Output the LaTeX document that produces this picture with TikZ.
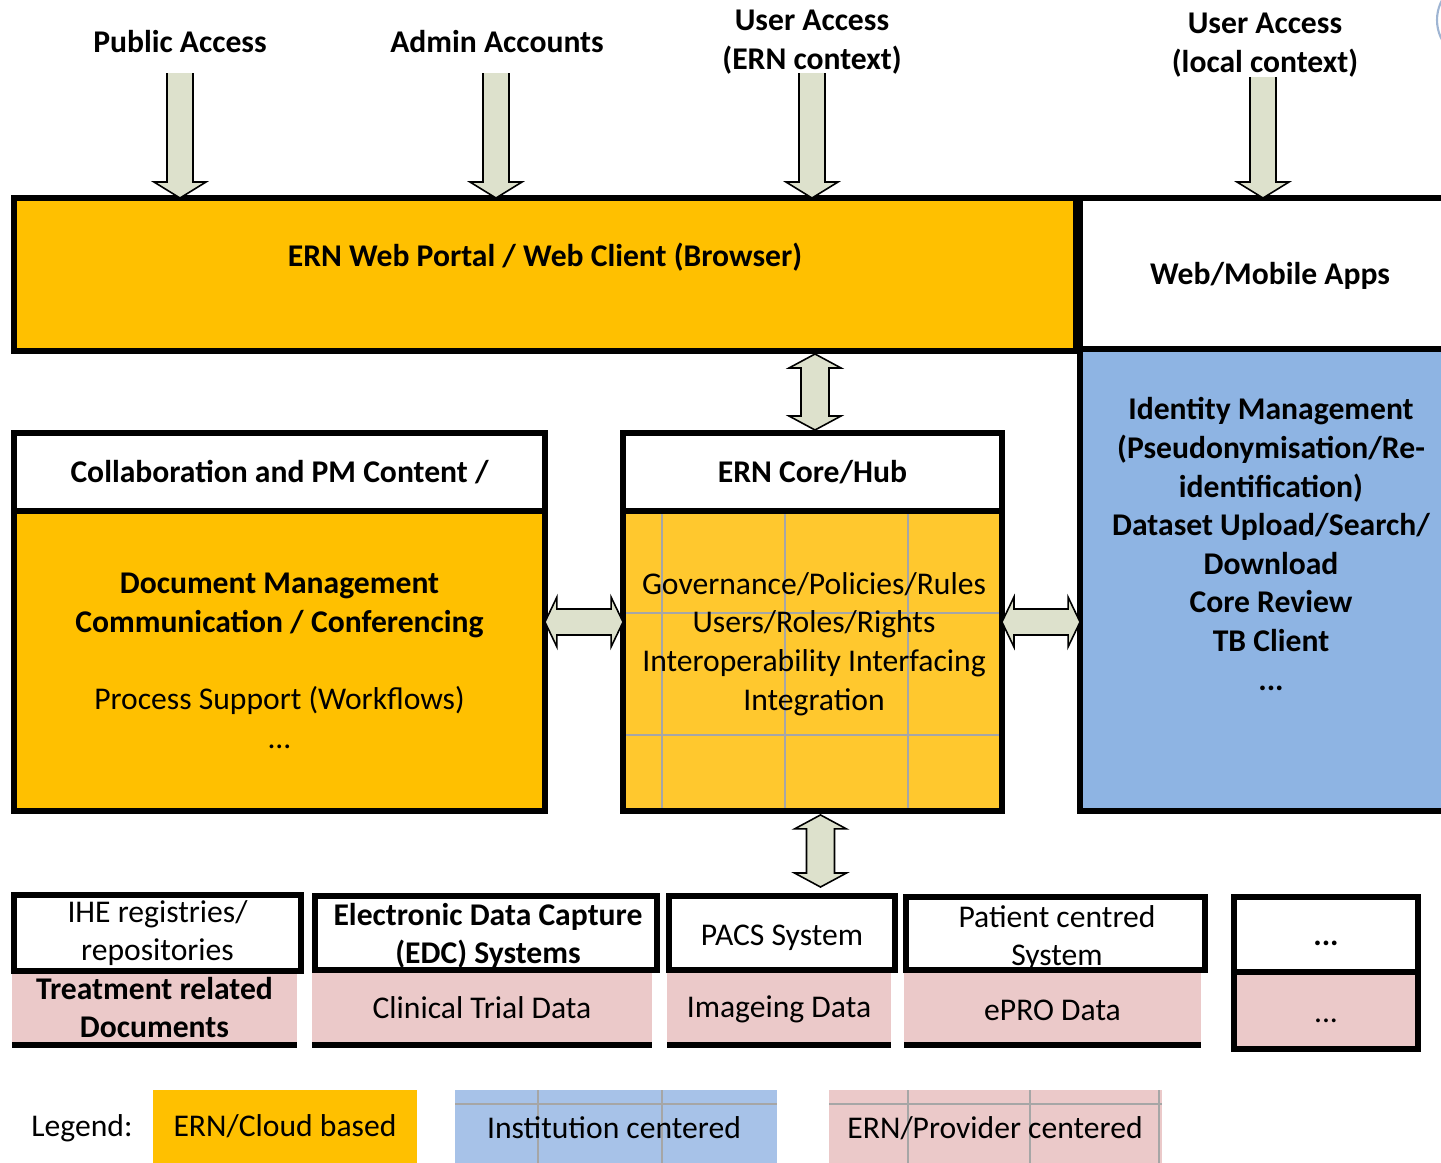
\documentclass[tikz,border=0pt]{standalone}
\usepackage{fontspec}
\setmainfont{Carlito}
\usetikzlibrary{calc, positioning}

\definecolor{ernorange}{HTML}{FFC000}
\definecolor{hubyellow}{HTML}{FFC82E}
\definecolor{instblue}{HTML}{8EB4E3}
\definecolor{legblue}{HTML}{A7C2E8}
\definecolor{provpink}{HTML}{EBC9C9}
\definecolor{arrowfill}{HTML}{DDE1CC}
\definecolor{gridgrey}{HTML}{A6A6A6}

% block arrow pointing down, open at the top
\newcommand{\blockdown}[2]{%
  \draw[barrow] let \p1=(#1), \p2=(#2) in
    (\x1-0.26cm,\y1) -- (\x1-0.26cm,\y2+0.32cm) -- (\x1-0.52cm,\y2+0.32cm) -- (\x1,\y2)
    -- (\x1+0.52cm,\y2+0.32cm) -- (\x1+0.26cm,\y2+0.32cm) -- (\x1+0.26cm,\y1);}
% vertical double block arrow
\newcommand{\blockvv}[2]{%
  \draw[barrow] let \p1=(#1), \p2=(#2) in
    (\x1,\y1) -- (\x1+0.52cm,\y1-0.28cm) -- (\x1+0.28cm,\y1-0.28cm) -- (\x1+0.28cm,\y2+0.28cm)
    -- (\x1+0.52cm,\y2+0.28cm) -- (\x1,\y2) -- (\x1-0.52cm,\y2+0.28cm) -- (\x1-0.28cm,\y2+0.28cm)
    -- (\x1-0.28cm,\y1-0.28cm) -- (\x1-0.52cm,\y1-0.28cm) -- cycle;}
% horizontal double block arrow
\newcommand{\blockhh}[2]{%
  \draw[barrow] let \p1=(#1), \p2=(#2) in
    (\x1,\y1) -- (\x1+0.24cm,\y1+0.5cm) -- (\x1+0.24cm,\y1+0.26cm) -- (\x2-0.24cm,\y1+0.26cm)
    -- (\x2-0.24cm,\y1+0.5cm) -- (\x2,\y1) -- (\x2-0.24cm,\y1-0.5cm) -- (\x2-0.24cm,\y1-0.26cm)
    -- (\x1+0.24cm,\y1-0.26cm) -- (\x1+0.24cm,\y1-0.5cm) -- cycle;}

\begin{document}
\begin{tikzpicture}[x=0.02cm, y=-0.02cm,
    font=\fontsize{18}{22}\selectfont,
    bold/.style={font=\fontsize{18}{22}\selectfont\bfseries},
    box/.style={draw, line width=3.4pt, outer sep=0pt, inner sep=2pt, align=center},
    data/.style={fill=provpink, outer sep=0pt, inner sep=2pt, align=center, minimum height=1.5cm},
    legbox/.style={outer sep=0pt, minimum height=1.46cm},
    barrow/.style={draw=black, fill=arrowfill, line width=0.9pt, line join=miter},
    base/.style={line width=3.4pt},
    gridline/.style={draw=gridgrey, line width=1.4pt}
  ]
  \clip (0,0) rectangle (1441,1163);

  % Access
  \node[bold] (pub) at (180,42) {Public Access};
  \node[bold] (adm) at (497,42) {Admin Accounts};
  \node[bold, align=center] (uern) at (812,42) {User Access\\(ERN context)};
  \node[bold, align=center] (uloc) at (1265,45) {User Access\\(local context)};
  \coordinate (pub-in) at (180,73);
  \coordinate (adm-in) at (496,73);
  \coordinate (uern-in) at (812,73);
  \coordinate (uloc-in) at (1263,77);
  \draw[legblue!80!gray, line width=1.2pt] (1479,20) circle (0.84cm);

  % Portal and apps
  \node[box, fill=ernorange, minimum width=21.24cm, minimum height=3.06cm] (portal) at (545,274.5) {};
  \node[bold] (portaltxt) at (545,257) {ERN Web Portal / Web Client (Browser)};
  \node[box, bold, fill=white, minimum width=7.6cm, minimum height=3.02cm, text height=16.9pt, text depth=4.5pt] (apps) at (1270,273.5) {Web/Mobile Apps};
  \node[box, fill=instblue, minimum width=7.6cm, minimum height=9.24cm] (inst) at (1270,580) {};
  \node[bold, align=center] (insttxt) at (1271,544) {Identity Management\\(Pseudonymisation/Re-\\identification)\\Dataset Upload/Search/\\Download\\Core Review\\TB Client\\...};

  % Collaboration
  \node[box, bold, fill=white, minimum width=10.62cm, minimum height=1.56cm] (collhead) at (279.5,472) {Collaboration and PM Content /};
  \node[box, fill=ernorange, minimum width=10.62cm, minimum height=6cm, below=0pt of collhead] (collbody)
    {\textbf{Document Management}\\\textbf{Communication / Conferencing}\\[22pt]Process Support (Workflows)\\...};

  % Core / Hub
  \node[box, bold, fill=white, minimum width=7.58cm, minimum height=1.56cm] (corehead) at (812.5,472) {ERN Core/Hub};
  \node[box, fill=hubyellow, minimum width=7.58cm, minimum height=6cm, below=0pt of corehead] (corebody) {};
  \draw[gridline] (662,514) -- (662,808) (785,514) -- (785,808) (908,514) -- (908,808)
    (626,613) -- (999,613) (626,735) -- (999,735);
  \node[align=center] (coretxt) at (814,644) {Governance/Policies/Rules\\Users/Roles/Rights\\Interoperability Interfacing\\Integration};

  % Arrows
  \blockdown{pub-in}{pub-in |- portal.north};
  \blockdown{adm-in}{adm-in |- portal.north};
  \blockdown{uern-in}{uern-in |- portal.north};
  \blockdown{uloc-in}{uloc-in |- apps.north};
  \coordinate (lvl) at (0,622);
  \blockvv{[yshift=-0.06cm, xshift=0.05cm]portal.south -| corehead.north}{[yshift=0.06cm]corehead.north};
  \blockhh{collbody.east |- lvl}{corebody.west |- lvl};
  \blockhh{corebody.east |- lvl}{inst.west |- lvl};

  % Sources
  \node[data, bold, minimum width=5.7cm] (ihedata) at (154.5,1007.5) {Treatment related\\Documents};
  \node[box, fill=white, minimum width=5.74cm, minimum height=1.52cm] (ihe) at (157.5,933) {IHE registries/\\repositories};
  \draw[base] (ihedata.south west) -- (ihedata.south east);

  \node[data, minimum width=6.8cm] (edcdata) at (482,1007.5) {Clinical Trial Data};
  \node[box, fill=white, minimum width=6.84cm, minimum height=1.48cm] (edc) at (486,933) {};
  \node[bold, align=center] (edctxt) at (488,936) {Electronic Data Capture\\(EDC) Systems};
  \draw[base] (edcdata.south west) -- (edcdata.south east);

  \node[data, minimum width=4.48cm, text height=14.9pt, text depth=4pt] (pacsdata) at (779,1007.5) {Imageing Data};
  \node[box, fill=white, minimum width=4.52cm, minimum height=1.48cm, text height=18.3pt, text depth=4pt] (pacs) at (782,933) {PACS System};
  \draw[base] (pacsdata.south west) -- (pacsdata.south east);

  \node[data, minimum width=5.94cm, text height=15pt, text depth=0pt] (prodata) at (1052.5,1007.5) {ePRO Data};
  \node[box, fill=white, minimum width=5.98cm, minimum height=1.46cm] (patient) at (1055.5,933.5) {};
  \node[align=center] (patienttxt) at (1057,938) {Patient centred\\System};
  \draw[base] (prodata.south west) -- (prodata.south east);

  \node[box, fill=provpink, minimum width=3.68cm, minimum height=1.54cm, text height=20pt, text depth=6.6pt] (moredata) at (1326,1010.5) {...};
  \node[box, bold, fill=white, minimum width=3.68cm, minimum height=1.5cm, text height=18.8pt, text depth=6.6pt] (more) at (1326,934.5) {...};

  \blockvv{[xshift=0.16cm, yshift=-0.08cm]corebody.south}{[yshift=0.18cm]pacs.north};

  % Legend
  \node (legend) at (82,1128) {Legend:};
  \node[legbox, fill=ernorange, minimum width=5.28cm] (legcloud) at (285,1126.5) {ERN/Cloud based};
  \node[legbox, fill=legblue, minimum width=6.44cm] (leginst) at (616,1126.5) {};
  \draw[gridline] (455,1104) -- (777,1104) (538,1090) -- (538,1163) (662,1090) -- (662,1163);
  \node (leginsttxt) at (614,1128) {Institution centered};
  \node[legbox, fill=provpink, minimum width=6.66cm] (legprov) at (995.5,1126.5) {};
  \draw[gridline] (829,1104) -- (1162,1104) (908,1090) -- (908,1163) (1030,1090) -- (1030,1163) (1159,1090) -- (1159,1163);
  \node (legprovtxt) at (995,1128) {ERN/Provider centered};
\end{tikzpicture}
\end{document}
